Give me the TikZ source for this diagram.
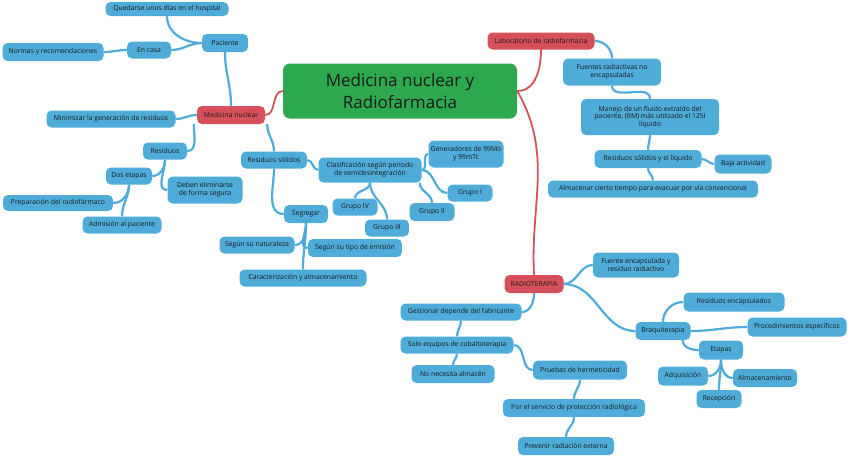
\documentclass[tikz,border=0pt]{standalone}
\usepackage{fontspec}
\setmainfont{Open Sans}
\usetikzlibrary{backgrounds}
\definecolor{nblue}{HTML}{4FACD9}
\definecolor{lblue}{HTML}{4FACD9}
\definecolor{nred}{HTML}{D6505C}
\definecolor{ngreen}{HTML}{2DA84E}
\definecolor{ntext}{HTML}{1A1A1A}
\tikzset{
  bn/.style={fill=nblue, rounded corners=5pt, text=ntext, align=center, inner sep=1pt,
    font=\fontsize{6.8}{7.6}\selectfont},
  rn/.style={bn, fill=nred},
  con/.style={draw=lblue, line width=2.2pt},
  rcon/.style={draw=nred, line width=1.8pt}
}
\begin{document}
\begin{tikzpicture}[x=1pt,y=1pt]
\useasboundingbox (0,0) rectangle (848,-456);
% central
\node[fill=ngreen, rounded corners=7pt, text=ntext, align=center, minimum width=234pt, minimum height=55pt,
  font=\fontsize{17}{22}\selectfont] (c) at (400,-91) {Medicina nuclear y\\Radiofarmacia};
% medicina nuclear branch
\node[rn, minimum width=68pt, minimum height=18pt] (mn) at (231,-115) {Medicina nuclear};
\node[bn, minimum width=46pt, minimum height=18pt] (pac) at (225,-43) {Paciente};
\node[bn, minimum width=123pt, minimum height=14pt] (q) at (167,-9) {Quedarse unos días en el hospital};
\node[bn, minimum width=44pt, minimum height=17pt] (casa) at (149,-50) {En casa};
\node[bn, minimum width=101pt, minimum height=18pt] (norm) at (53,-52) {Normas y recomendaciones};
\node[bn, minimum width=129pt, minimum height=17pt] (min) at (111,-119) {Minimizar la generación de residuos};
\node[bn, minimum width=44pt, minimum height=17pt] (res) at (165,-151) {Residuos};
\node[bn, minimum width=46pt, minimum height=17pt] (dos) at (129,-176) {Dos etapas};
\node[bn, minimum width=75pt, minimum height=27pt] (deb) at (205,-190) {Deben eliminarse\\de forma segura};
\node[bn, minimum width=110pt, minimum height=16pt] (prep) at (58,-203) {Preparación del radiofármaco};
\node[bn, minimum width=79pt, minimum height=17pt] (adm) at (122,-225) {Admisión al paciente};
\node[bn, minimum width=66pt, minimum height=17pt] (rsol) at (274,-160) {Residuos sólidos};
\node[bn, minimum width=103pt, minimum height=25pt] (clas) at (370,-170) {Clasificación según periodo\\de semidesintegración};
\node[bn, minimum width=75pt, minimum height=27pt] (gen) at (466,-154) {Generadores de 99Mo\\y 99mTc};
\node[bn, minimum width=45pt, minimum height=17pt] (g1) at (470,-193) {Grupo I};
\node[bn, minimum width=45pt, minimum height=18pt] (g2) at (432,-212) {Grupo II};
\node[bn, minimum width=45pt, minimum height=17pt] (g4) at (355,-207) {Grupo IV};
\node[bn, minimum width=44pt, minimum height=17pt] (g3) at (387,-228) {Grupo III};
\node[bn, minimum width=44pt, minimum height=18pt] (seg) at (306,-214) {Segregar};
\node[bn, minimum width=75pt, minimum height=17pt] (nat) at (257,-245) {Según su naturaleza};
\node[bn, minimum width=94pt, minimum height=18pt] (tipo) at (355,-248) {Según su tipo de emisión};
\node[bn, minimum width=127pt, minimum height=17pt] (car) at (303,-278) {Caracterización y almacenamiento};
% laboratorio branch
\node[rn, minimum width=107pt, minimum height=17pt] (lab) at (541,-41) {Laboratorio de radiofarmacia};
\node[bn, minimum width=98pt, minimum height=27pt] (fue) at (612,-72) {Fuentes radiactivas no\\encapsuladas};
\node[bn, minimum width=138pt, minimum height=36pt] (man) at (650,-117) {Manejo de un fluido extraído del\\paciente, (RM) más utilizado el 125I\\líquido};
\node[bn, minimum width=107pt, minimum height=18pt] (rsl) at (648,-159) {Residuos sólidos y el líquido};
\node[bn, minimum width=57pt, minimum height=19pt] (baja) at (743,-164) {Baja actividad};
\node[bn, minimum width=210pt, minimum height=17pt] (alm) at (653,-189) {Almacenar cierto tiempo para evacuar por vía convencional};
% radioterapia branch
\node[rn, minimum width=59pt, minimum height=18pt] (rt) at (534,-284) {RADIOTERAPIA};
\node[bn, minimum width=86pt, minimum height=25pt] (fe) at (636,-265) {Fuente encapsulada y\\residuo radiactivo};
\node[bn, minimum width=121pt, minimum height=17pt] (gest) at (461,-312) {Gestionar depende del fabricante};
\node[bn, minimum width=113pt, minimum height=17pt] (solo) at (457,-345) {Solo equipos de cobaltoterapia};
\node[bn, minimum width=83pt, minimum height=18pt] (nonec) at (453,-374) {No necesita almacén};
\node[bn, minimum width=94pt, minimum height=19pt] (pru) at (580,-370) {Pruebas de hermeticidad};
\node[bn, minimum width=142pt, minimum height=18pt] (por) at (574,-408) {Por el servicio de protección radiológica};
\node[bn, minimum width=96pt, minimum height=18pt] (prev) at (566,-446) {Prevenir radiación externa};
\node[bn, minimum width=55pt, minimum height=18pt] (braq) at (663,-331) {Braquiterapia};
\node[bn, minimum width=101pt, minimum height=19pt] (renc) at (734,-302) {Residuos encapsulados};
\node[bn, minimum width=99pt, minimum height=19pt] (proc) at (797,-327) {Procedimientos específicos};
\node[bn, minimum width=44pt, minimum height=19pt] (et) at (721,-350) {Etapas};
\node[bn, minimum width=50pt, minimum height=19pt] (adq) at (683,-376) {Adquisición};
\node[bn, minimum width=64pt, minimum height=18pt] (almc) at (765,-378) {Almacenamiento};
\node[bn, minimum width=45pt, minimum height=18pt] (rec) at (719,-399) {Recepción};
\begin{scope}[on background layer]
\draw[rcon] (c.west) to[out=180,in=0] (mn.east);
\draw[rcon] (c.east) to[out=0,in=-90] (lab.south);
\draw[rcon] (c.east) to[out=-60,in=93] (rt.north);
\draw[con] (mn.north) to[out=90,in=-90] (pac.south);
\draw[con] (pac.west) to[out=180,in=-90] (q.south);
\draw[con] (pac.west) to[out=180,in=0] (casa.east);
\draw[con] (casa.west) to[out=180,in=0] (norm.east);
\draw[con] (mn.west) to[out=180,in=0] (min.east);
\draw[con] ([xshift=-3pt]mn.south west) to[out=-90,in=0] (res.east);
\draw[con] ([xshift=2pt]mn.south east) to[out=-90,in=90] (rsol.north);
\draw[con] (rsol.south) to[out=-90,in=180] (seg.west);
\draw[con] (res.south) to[out=-90,in=0] (dos.east);
\draw[con] (res.south) to[out=-90,in=180] (deb.west);
\draw[con] (dos.south) to[out=-90,in=0] (prep.east);
\draw[con] (dos.south) to[out=-90,in=90] (adm.north);
\draw[con] (rsol.east) to[out=0,in=180] (clas.west);
\draw[con] (clas.east) to[out=0,in=180] (gen.west);
\draw[con] (clas.east) to[out=0,in=180] (g1.west);
\draw[con] ([xshift=-2pt]clas.south east) to[out=-90,in=90] (g2.north);
\draw[con] (clas.south) to[out=-90,in=90] (g4.north);
\draw[con] (clas.south) to[out=-90,in=90] (g3.north);
\draw[con] (seg.south) to[out=-90,in=0] (nat.east);
\draw[con] (seg.south) to[out=-90,in=180] (tipo.west);
\draw[con] (seg.south) to[out=-90,in=90] (car.north);
\draw[con] (lab.east) to[out=0,in=90] (fue.north);
\draw[con] (fue.south) to[out=-90,in=90] (man.north);
\draw[con] (man.south) to[out=-90,in=90] (rsl.north);
\draw[con] (rsl.east) to[out=0,in=180] (baja.west);
\draw[con] (rsl.south) to[out=-90,in=90] (alm.north);
\draw[con] (rt.east) to[out=0,in=180] (fe.west);
\draw[con] (rt.east) to[out=0,in=180] (braq.west);
\draw[con] (rt.south) to[out=-90,in=0] (gest.east);
\draw[con] (gest.south) to[out=-90,in=90] (solo.north);
\draw[con] (solo.south) to[out=-90,in=90] (nonec.north);
\draw[con] (solo.east) to[out=0,in=180] (pru.west);
\draw[con] (pru.south) to[out=-90,in=90] (por.north);
\draw[con] (por.south) to[out=-90,in=90] (prev.north);
\draw[con] (braq.north) to[out=90,in=180] (renc.west);
\draw[con] (braq.east) to[out=0,in=180] (proc.west);
\draw[con] ([xshift=-8pt]braq.south east) to[out=-90,in=180] (et.west);
\draw[con] (et.south) to[out=-90,in=0] (adq.east);
\draw[con] (et.south) to[out=-90,in=180] (almc.west);
\draw[con] (et.south) to[out=-90,in=90] (rec.north);
\end{scope}
\end{tikzpicture}
\end{document}
